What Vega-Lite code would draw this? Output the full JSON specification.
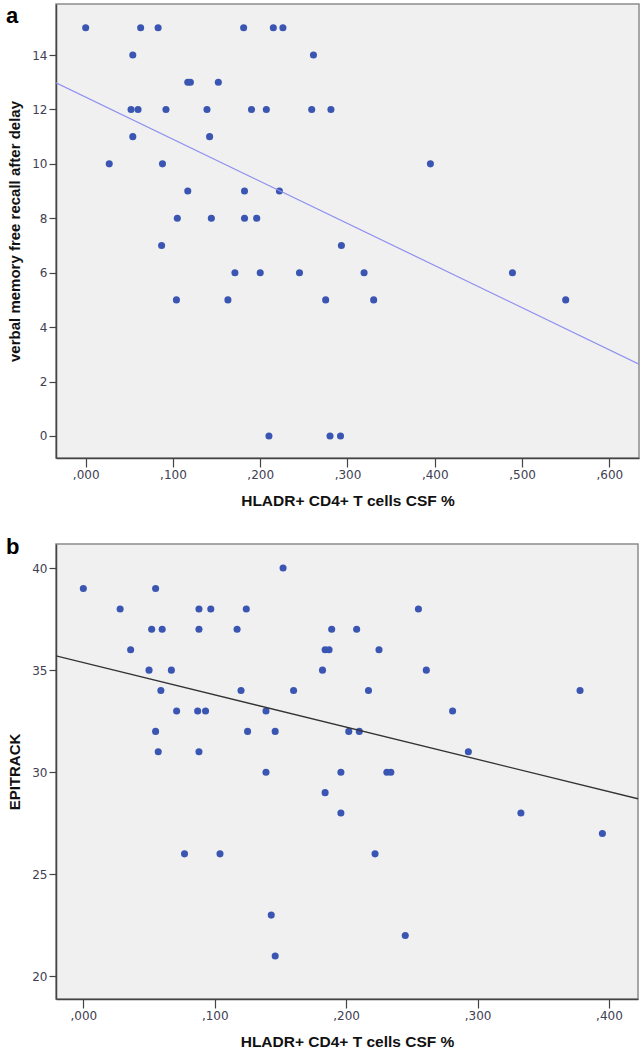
{
  "$schema": "https://vega.github.io/schema/vega-lite/v6.json",
  "padding": {"left": 5, "top": 3, "right": 0, "bottom": 0},
  "background": "white",
  "spacing": 86,
  "bounds": "flush",
  "config": {
    "view": {"fill": "#f0f0f0", "stroke": "#8c8c8c", "strokeWidth": 1.5},
    "axis": {"grid": false, "domainColor": "#444444", "domainWidth": 1.5, "tickColor": "#444444", "tickWidth": 1.2, "labelFont": "DejaVu Sans", "labelFontSize": 12, "labelColor": "#404052", "titleFont": "Liberation Sans", "titleFontSize": 15, "titleFontWeight": "bold", "titleColor": "#111111", "labelPadding": 2},
    "axisX": {"tickSize": 9, "titlePadding": 13, "titleFontSize": 15.5},
    "axisY": {"tickSize": 7, "titlePadding": 10, "minExtent": 24, "maxExtent": 24},
    "title": {"font": "Liberation Sans", "fontSize": 22, "fontWeight": "bold", "anchor": "start", "frame": "group", "offset": 0, "baseline": "alphabetic", "color": "#000000"}
  },
  "datasets": {
    "a_pts": [
      {"x": 0.000, "y": 15}, {"x": 0.063, "y": 15}, {"x": 0.083, "y": 15}, {"x": 0.181, "y": 15}, {"x": 0.215, "y": 15}, {"x": 0.226, "y": 15},
      {"x": 0.054, "y": 14}, {"x": 0.261, "y": 14},
      {"x": 0.117, "y": 13}, {"x": 0.120, "y": 13}, {"x": 0.152, "y": 13},
      {"x": 0.052, "y": 12}, {"x": 0.060, "y": 12}, {"x": 0.092, "y": 12}, {"x": 0.139, "y": 12}, {"x": 0.190, "y": 12}, {"x": 0.207, "y": 12}, {"x": 0.259, "y": 12}, {"x": 0.281, "y": 12},
      {"x": 0.054, "y": 11}, {"x": 0.142, "y": 11},
      {"x": 0.027, "y": 10}, {"x": 0.088, "y": 10}, {"x": 0.395, "y": 10},
      {"x": 0.117, "y": 9}, {"x": 0.182, "y": 9}, {"x": 0.222, "y": 9},
      {"x": 0.105, "y": 8}, {"x": 0.144, "y": 8}, {"x": 0.182, "y": 8}, {"x": 0.196, "y": 8},
      {"x": 0.087, "y": 7}, {"x": 0.293, "y": 7},
      {"x": 0.171, "y": 6}, {"x": 0.200, "y": 6}, {"x": 0.245, "y": 6}, {"x": 0.319, "y": 6}, {"x": 0.489, "y": 6},
      {"x": 0.104, "y": 5}, {"x": 0.163, "y": 5}, {"x": 0.275, "y": 5}, {"x": 0.330, "y": 5}, {"x": 0.550, "y": 5},
      {"x": 0.210, "y": 0}, {"x": 0.280, "y": 0}, {"x": 0.292, "y": 0}
    ],
    "a_fit": [{"x": -0.034, "y": 12.98}, {"x": 0.634, "y": 2.64}],
    "b_pts": [
      {"x": 0.152, "y": 40},
      {"x": 0.000, "y": 39}, {"x": 0.055, "y": 39},
      {"x": 0.028, "y": 38}, {"x": 0.088, "y": 38}, {"x": 0.097, "y": 38}, {"x": 0.124, "y": 38}, {"x": 0.255, "y": 38},
      {"x": 0.052, "y": 37}, {"x": 0.060, "y": 37}, {"x": 0.088, "y": 37}, {"x": 0.117, "y": 37}, {"x": 0.189, "y": 37}, {"x": 0.208, "y": 37},
      {"x": 0.036, "y": 36}, {"x": 0.184, "y": 36}, {"x": 0.187, "y": 36}, {"x": 0.225, "y": 36},
      {"x": 0.050, "y": 35}, {"x": 0.067, "y": 35}, {"x": 0.182, "y": 35}, {"x": 0.261, "y": 35},
      {"x": 0.059, "y": 34}, {"x": 0.120, "y": 34}, {"x": 0.160, "y": 34}, {"x": 0.217, "y": 34}, {"x": 0.378, "y": 34},
      {"x": 0.071, "y": 33}, {"x": 0.087, "y": 33}, {"x": 0.093, "y": 33}, {"x": 0.139, "y": 33}, {"x": 0.281, "y": 33},
      {"x": 0.055, "y": 32}, {"x": 0.125, "y": 32}, {"x": 0.146, "y": 32}, {"x": 0.202, "y": 32}, {"x": 0.210, "y": 32},
      {"x": 0.057, "y": 31}, {"x": 0.088, "y": 31}, {"x": 0.293, "y": 31},
      {"x": 0.139, "y": 30}, {"x": 0.196, "y": 30}, {"x": 0.231, "y": 30}, {"x": 0.234, "y": 30},
      {"x": 0.184, "y": 29},
      {"x": 0.196, "y": 28}, {"x": 0.333, "y": 28},
      {"x": 0.395, "y": 27},
      {"x": 0.077, "y": 26}, {"x": 0.104, "y": 26}, {"x": 0.222, "y": 26},
      {"x": 0.143, "y": 23},
      {"x": 0.245, "y": 22},
      {"x": 0.146, "y": 21}
    ],
    "b_fit": [{"x": -0.0208, "y": 35.70}, {"x": 0.4221, "y": 28.70}]
  },
  "vconcat": [
    {
      "width": 583,
      "height": 454,
      "title": {"text": "a", "dx": -50, "dy": 28},
      "layer": [
        {
          "data": {"name": "a_pts"},
          "mark": {"type": "circle", "size": 50, "opacity": 1, "color": "#3a56b2"},
          "encoding": {
            "x": {"field": "x", "type": "quantitative", "scale": {"domain": [-0.034, 0.634], "nice": false, "zero": false},
                  "axis": {"values": [0, 0.1, 0.2, 0.3, 0.4, 0.5, 0.6], "labelExpr": "replace(format(datum.value, '.3f'), '0.', ',')", "title": "HLADR+ CD4+ T cells CSF %"}},
            "y": {"field": "y", "type": "quantitative", "scale": {"domain": [-0.81, 15.875], "nice": false, "zero": false},
                  "axis": {"values": [0, 2, 4, 6, 8, 10, 12, 14], "title": "verbal memory free recall after delay"}}
          }
        },
        {
          "data": {"name": "a_fit"},
          "mark": {"type": "line", "color": "#8f8ff0", "strokeWidth": 1.2, "clip": true},
          "encoding": {
            "x": {"field": "x", "type": "quantitative"},
            "y": {"field": "y", "type": "quantitative"}
          }
        }
      ]
    },
    {
      "width": 582,
      "height": 455,
      "title": {"text": "b", "dx": -50, "dy": 19},
      "layer": [
        {
          "data": {"name": "b_pts"},
          "mark": {"type": "circle", "size": 50, "opacity": 1, "color": "#3a56b2"},
          "encoding": {
            "x": {"field": "x", "type": "quantitative", "scale": {"domain": [-0.0208, 0.4221], "nice": false, "zero": false},
                  "axis": {"values": [0, 0.1, 0.2, 0.3, 0.4], "labelExpr": "replace(format(datum.value, '.3f'), '0.', ',')", "title": "HLADR+ CD4+ T cells CSF %"}},
            "y": {"field": "y", "type": "quantitative", "scale": {"domain": [18.89, 41.18], "nice": false, "zero": false},
                  "axis": {"values": [20, 25, 30, 35, 40], "title": "EPITRACK"}}
          }
        },
        {
          "data": {"name": "b_fit"},
          "mark": {"type": "line", "color": "#333333", "strokeWidth": 1.3, "clip": true},
          "encoding": {
            "x": {"field": "x", "type": "quantitative"},
            "y": {"field": "y", "type": "quantitative"}
          }
        }
      ]
    }
  ]
}
